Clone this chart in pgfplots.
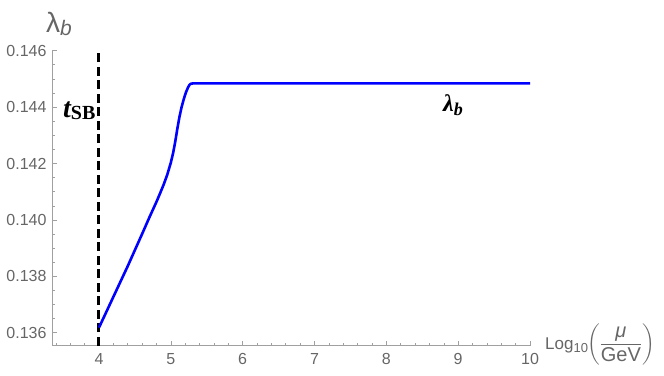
\documentclass[border=0pt]{standalone}
\usepackage{pgfplots}
\pgfplotsset{compat=1.18}
\usepackage{amsmath}
\usepackage{fontspec}
\setmainfont{Liberation Sans}
\newfontfamily\serifbf{Liberation Serif}
\definecolor{axgray}{HTML}{A0A0A0}
\definecolor{txtgray}{HTML}{666666}
\begin{document}
\begin{tikzpicture}[x=1bp,y=1bp]
\useasboundingbox (0,0) rectangle (664,375);
\begin{axis}[
  at={(52bp,29.3bp)}, anchor=south west,
  scale only axis, width=478bp, height=295bp,
  xmin=3.346, xmax=10, ymin=0.135539, ymax=0.146,
  axis lines*=left,
  axis line style={axgray, line width=0.6bp},
  tick align=inside,
  tick style={axgray, line width=0.6bp},
  major tick length=5bp, minor tick length=3bp,
  xtick={4,5,6,7,8,9,10},
  minor xtick={3.4,3.6,3.8,4.2,4.4,4.6,4.8,5.2,5.4,5.6,5.8,6.2,6.4,6.6,6.8,7.2,7.4,7.6,7.8,8.2,8.4,8.6,8.8,9.2,9.4,9.6,9.8},
  ytick={0.136,0.138,0.140,0.142,0.144,0.146},
  minor y tick num=3,
  yticklabel style={/pgf/number format/fixed, /pgf/number format/fixed zerofill, /pgf/number format/precision=3, xshift=-2bp},
  /pgf/number format/assume math mode=true,
  ticklabel style={font=\fontsize{16bp}{18bp}\selectfont, text=txtgray},
  xticklabel style={yshift=-4.5bp},
  scaled y ticks=false,
  clip=false,
]
\addplot[black, line width=3bp, dash pattern=on 9bp off 4.5bp] coordinates {(4,0.135539) (4,0.146)};
\addplot[color={rgb,255:red,0;green,0;blue,255}, line width=2.6bp, line join=round] coordinates {
(4,0.13618)
(4.2,0.13727)
(4.4,0.13836)
(4.6,0.13950)
(4.7,0.14008)
(4.8,0.14064)
(4.85,0.14094)
(4.9,0.14125)
(4.95,0.14160)
(5.0,0.14203)
(5.03,0.14235)
(5.06,0.14275)
(5.09,0.14322)
(5.12,0.14365)
(5.15,0.14400)
(5.18,0.14428)
(5.21,0.14452)
(5.24,0.14470)
(5.26,0.14479)
(5.28,0.14483)
(5.31,0.14484)
(10,0.14484)
};
\end{axis}
\node[anchor=base west, inner sep=0pt, text=txtgray] at (46,343)
  {\fontsize{28bp}{30bp}\selectfont λ\raisebox{-3bp}{\fontsize{21bp}{24bp}\selectfont\itshape b}};
\node[anchor=base west, inner sep=0pt] at (63,258)
  {\serifbf\bfseries{\fontsize{28bp}{30bp}\selectfont\itshape t}\raisebox{-2bp}{\fontsize{20bp}{22bp}\selectfont SB}};
\node[anchor=base west, inner sep=0pt] at (443,263.3)
  {\serifbf\bfseries{\fontsize{24bp}{26bp}\selectfont\itshape λ}\raisebox{-3.5bp}{\fontsize{18bp}{20bp}\selectfont\itshape b}};
\node[anchor=base west, inner sep=0pt, text=txtgray] at (545,26)
  {\fontsize{17bp}{19bp}\selectfont Log\raisebox{-3bp}{\fontsize{13bp}{15bp}\selectfont 10}\kern-1bp$\left(\dfrac{\hbox{\fontsize{20bp}{22bp}\selectfont\itshape μ}}{\hbox{\fontsize{20bp}{22bp}\selectfont GeV}}\right)$};
\end{tikzpicture}
\end{document}
